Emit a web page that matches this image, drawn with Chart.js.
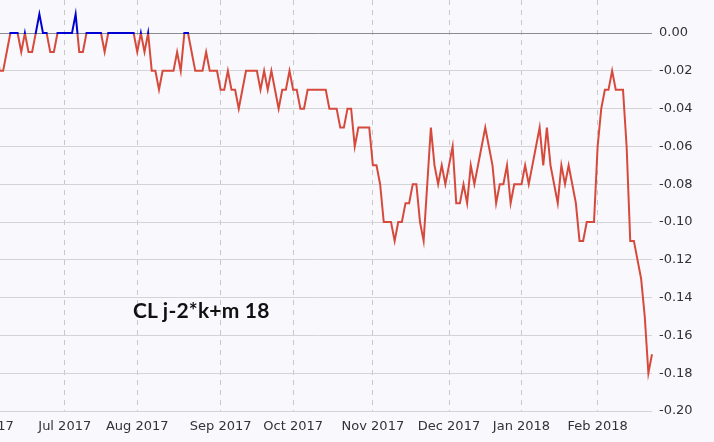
<!DOCTYPE html>
<html lang="en">
<head>
  <meta charset="UTF-8" />
  <meta name="viewport" content="width=device-width, initial-scale=1.0" />
  <title>CL j-2*k+m 18</title>
  <script src="https://cdn.jsdelivr.net/npm/chart.js@4.4.1/dist/chart.umd.min.js"></script>
  <style>
    html, body { margin: 0; padding: 0; background: #f8f8fd; overflow: hidden; }
    body { width: 714px; height: 442px; position: relative; }
    #wrap { position: absolute; left: -54.7px; top: 0; width: 767px; height: 442px; }
    #tag { position: absolute; left: 133px; top: 299px; font: bold 21px/21px Lato, sans-serif; letter-spacing: 0.2px; color: #111; white-space: nowrap; }
  </style>
</head>
<body>
  <div id="wrap"><canvas id="spreadChart"></canvas></div>
  <div id="tag">CL j-2*k+m 18</div>

  <script>
    // trading calendar of the x axis
    const firstDay = '2017-06-01';
    const lastDay = '2018-02-23';
    const holidays = ['2017-07-04', '2017-09-04', '2017-11-23', '2017-12-25', '2018-01-01', '2018-01-15', '2018-02-19'];
    const monthNames = ['Jan', 'Feb', 'Mar', 'Apr', 'May', 'Jun', 'Jul', 'Aug', 'Sep', 'Oct', 'Nov', 'Dec'];

    // spread settlement values, one per trading day from firstValueDay
    const firstValueDay = '2017-06-06';
    const values = [
      0, -0.02, -0.02, -0.01, 0, 0, 0, -0.01, 0, -0.01,
      -0.01, 0, 0.01, 0, 0, -0.01, -0.01, 0, 0, 0,
      0, 0, 0.01, -0.01, -0.01, 0, 0, 0, 0, 0,
      -0.01, 0, 0, 0, 0, 0, 0, 0, 0, -0.01,
      0, -0.01, 0, -0.02, -0.02, -0.03, -0.02, -0.02, -0.02, -0.02,
      -0.01, -0.02, 0, 0, -0.01, -0.02, -0.02, -0.02, -0.01, -0.02,
      -0.02, -0.02, -0.03, -0.03, -0.02, -0.03, -0.03, -0.04, -0.03, -0.02,
      -0.02, -0.02, -0.02, -0.03, -0.02, -0.03, -0.02, -0.03, -0.04, -0.03,
      -0.03, -0.02, -0.03, -0.03, -0.04, -0.04, -0.03, -0.03, -0.03, -0.03,
      -0.03, -0.03, -0.04, -0.04, -0.04, -0.05, -0.05, -0.04, -0.04, -0.06,
      -0.05, -0.05, -0.05, -0.05, -0.07, -0.07, -0.08, -0.10, -0.10, -0.10,
      -0.11, -0.10, -0.10, -0.09, -0.09, -0.08, -0.08, -0.10, -0.11, -0.08,
      -0.05, -0.07, -0.08, -0.07, -0.08, -0.07, -0.06, -0.09, -0.09, -0.08,
      -0.09, -0.07, -0.08, -0.07, -0.06, -0.05, -0.06, -0.07, -0.09, -0.08,
      -0.08, -0.07, -0.09, -0.08, -0.08, -0.08, -0.07, -0.08, -0.07, -0.06,
      -0.05, -0.07, -0.05, -0.07, -0.08, -0.09, -0.07, -0.08, -0.07, -0.08,
      -0.09, -0.11, -0.11, -0.10, -0.10, -0.10, -0.06, -0.04, -0.03, -0.03,
      -0.02, -0.03, -0.03, -0.03, -0.06, -0.11, -0.11, -0.12, -0.13, -0.15,
      -0.18, -0.17
    ];

    const yTicks = [-0.20, -0.18, -0.16, -0.14, -0.12, -0.10, -0.08, -0.06, -0.04, -0.02, 0];

    const gainColor = '#0000d2';
    const lossColor = '#d64a3c';

    function tradingDays(from, to, skip) {
      const out = [];
      const d = new Date(from + 'T00:00:00Z');
      const end = new Date(to + 'T00:00:00Z');
      while (d <= end) {
        const iso = d.toISOString().slice(0, 10);
        const wd = d.getUTCDay();
        if (wd !== 0 && wd !== 6 && !skip.includes(iso)) out.push(iso);
        d.setUTCDate(d.getUTCDate() + 1);
      }
      return out;
    }

    const labels = tradingDays(firstDay, lastDay, holidays);
    const offset = labels.indexOf(firstValueDay);
    const series = labels.map((_, i) => (i < offset ? null : values[i - offset]));
    const monthStarts = labels
      .map((s, i) => (i === 0 || s.slice(0, 7) !== labels[i - 1].slice(0, 7) ? i : -1))
      .filter(i => i >= 0);

    // blue above zero, red below
    function splitColor(context) {
      const chart = context.chart;
      const area = chart.chartArea;
      if (!area) return lossColor;
      const zero = chart.scales.y.getPixelForValue(0);
      const stop = Math.min(1, Math.max(0, (zero + 1 - area.top) / (area.bottom - area.top)));
      const g = chart.ctx.createLinearGradient(0, area.top, 0, area.bottom);
      g.addColorStop(0, gainColor);
      g.addColorStop(stop, gainColor);
      g.addColorStop(stop, lossColor);
      g.addColorStop(1, lossColor);
      return g;
    }

    const tickFont = { family: 'DejaVu Sans', size: 13 };

    new Chart(document.getElementById('spreadChart'), {
      type: 'line',
      data: {
        labels: labels,
        datasets: [{
          data: series,
          borderColor: splitColor,
          borderWidth: 2,
          pointRadius: 0,
          tension: 0,
          fill: false,
          spanGaps: false
        }]
      },
      options: {
        responsive: true,
        maintainAspectRatio: false,
        animation: false,
        layout: { padding: { left: 40, right: 0, top: 0, bottom: 0 } },
        plugins: { legend: { display: false }, tooltip: { enabled: false } },
        scales: {
          x: {
            type: 'category',
            afterBuildTicks: axis => { axis.ticks = monthStarts.map(i => ({ value: i })); },
            afterFit: axis => { axis.height = 31; axis.paddingLeft = 0; axis.paddingRight = 0; },
            ticks: {
              autoSkip: false,
              maxRotation: 0,
              minRotation: 0,
              padding: 8,
              color: '#333',
              font: tickFont,
              callback: value => {
                const s = labels[value];
                return monthNames[+s.slice(5, 7) - 1] + ' ' + s.slice(0, 4);
              }
            },
            grid: { color: '#c8c8cc', lineWidth: 1, drawTicks: false },
            border: { display: false, dash: [5, 5] }
          },
          y: {
            position: 'right',
            min: -0.2,
            max: 0.0175,
            afterBuildTicks: axis => { axis.ticks = yTicks.map(v => ({ value: v })); },
            afterFit: axis => { axis.width = 60; axis.paddingTop = 0; axis.paddingBottom = 0; },
            ticks: {
              padding: 7,
              color: '#333',
              font: tickFont,
              callback: v => v.toFixed(2)
            },
            grid: {
              drawTicks: false,
              color: ctx => (ctx.tick && Math.abs(ctx.tick.value) < 1e-9 ? '#8c8c8c' : '#d4d4d8')
            },
            border: { display: false }
          }
        }
      }
    });
  </script>
</body>
</html>
